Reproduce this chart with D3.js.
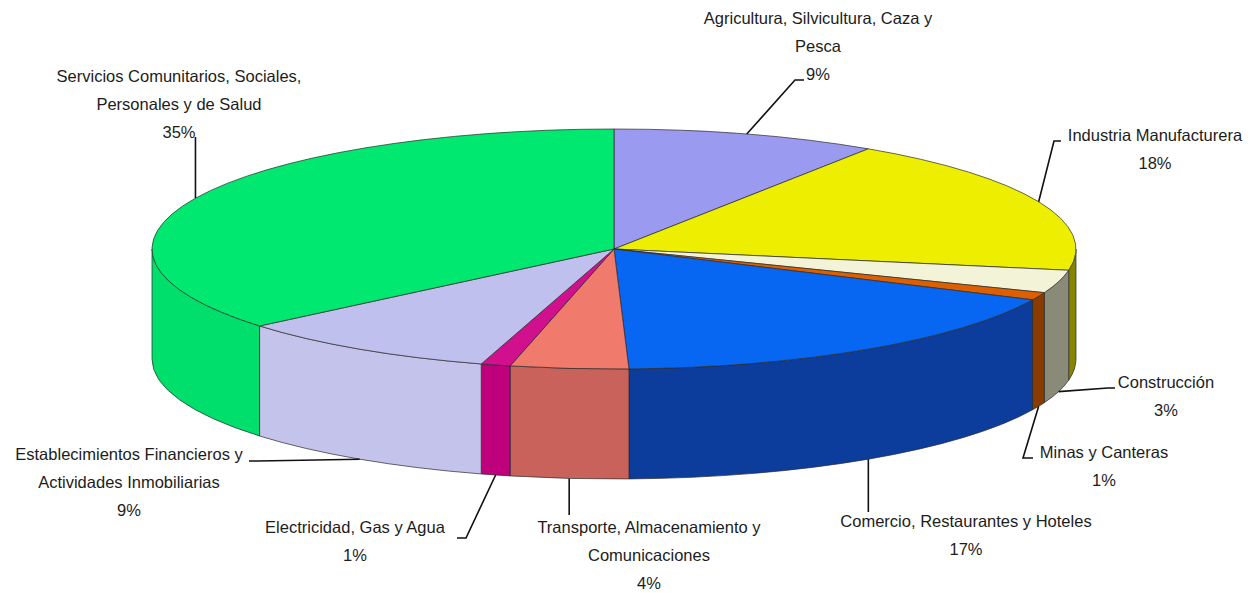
<!DOCTYPE html>
<html><head><meta charset="utf-8">
<script src="https://cdn.jsdelivr.net/npm/d3@7"></script>
<style>html,body{margin:0;padding:0;background:#fff;overflow:hidden}</style>
</head><body>
<svg id="chart" width="1259" height="593"></svg>
<script>
// ---- data ----
const categories = [
  "Agricultura, Silvicultura, Caza y|Pesca",
  "Industria Manufacturera",
  "Construcción",
  "Minas y Canteras",
  "Comercio, Restaurantes y Hoteles",
  "Transporte, Almacenamiento y|Comunicaciones",
  "Electricidad, Gas y Agua",
  "Establecimientos Financieros y|Actividades Inmobiliarias",
  "Servicios Comunitarios, Sociales,|Personales y de Salud"
];
const values = [9, 18, 3, 1, 17, 4, 1, 9, 35];
const percentLabels = ["9%", "18%", "3%", "1%", "17%", "4%", "1%", "9%", "35%"];

// ---- styles / layout ----
const topColors  = ["#9a9af0", "#eeee00", "#f3f3d8", "#dd5f00", "#0766f2", "#f07a6c", "#d0108c", "#bfc0ee", "#00e870"];
const sideColors = ["#7474c0", "#858500", "#8a8a78", "#8a3c00", "#0c3d9c", "#c8625a", "#bf007c", "#c3c3ec", "#00de6c"];
const labelPos = [[818,24],[1155,141],[1166,388],[1104,458],[966,527],[649,533],[355,533],[129,460],[179,82]];
const leaderPts = [
  [[795,80],[804,80]],
  [[1054,141],[1061,141]],
  [[1108,388],[1115,388]],
  [[1023,458],[1033,458]],
  [[null,512]],
  [[null,515]],
  [[466,538],[457,538]],
  [[258,461],[249,461]],
  [[null,137]]
];
const cx = 614, cy = 249, rx = 462, ry = 120, depth = 110;
const fontSize = 16.5, lineH = 27.8;

const svg = d3.select("#chart");
const color = d3.scaleOrdinal().domain(d3.range(values.length)).range(topColors);
const sideColor = d3.scaleOrdinal().domain(d3.range(values.length)).range(sideColors);

const arcs = d3.pie().sort(null).value(d => d).startAngle(0).endAngle(2*Math.PI)(values);

const pt = (a, dy = 0) => [cx + rx*Math.sin(a), cy - ry*Math.cos(a) + dy];

function topPath(a0, a1){
  const p0 = pt(a0), p1 = pt(a1);
  const large = (a1 - a0) > Math.PI ? 1 : 0;
  return `M${cx},${cy}L${p0}A${rx},${ry} 0 ${large} 1 ${p1}Z`;
}
function wallPath(a0, a1){
  const s0 = Math.max(a0, Math.PI/2), s1 = Math.min(a1, 3*Math.PI/2);
  if (s1 <= s0) return null;
  const t0 = pt(s0), t1 = pt(s1), b1 = pt(s1, depth), b0 = pt(s0, depth);
  const large = (s1 - s0) > Math.PI ? 1 : 0;
  return `M${t0}A${rx},${ry} 0 ${large} 1 ${t1}L${b1}A${rx},${ry} 0 ${large} 0 ${b0}Z`;
}

const g = svg.append("g");
// walls
g.selectAll("path.wall").data(arcs.filter(d => wallPath(d.startAngle, d.endAngle)))
  .join("path").attr("class","wall")
  .attr("d", d => wallPath(d.startAngle, d.endAngle))
  .attr("fill", d => sideColor(d.index))
  .attr("stroke", "#2a2a2a").attr("stroke-width", 0.7).attr("stroke-linejoin","round");
// tops
g.selectAll("path.top").data(arcs).join("path").attr("class","top")
  .attr("d", d => topPath(d.startAngle, d.endAngle))
  .attr("fill", d => color(d.index))
  .attr("stroke", "#2a2a2a").attr("stroke-width", 0.7).attr("stroke-linejoin","round");

// leaders
const lab = svg.append("g");
arcs.forEach(d => {
  const mid = (d.startAngle + d.endAngle)/2;
  const front = mid > Math.PI/2 && mid < 3*Math.PI/2;
  const anchor = pt(mid, front ? depth : 0);
  const pts = [anchor].concat(leaderPts[d.index].map(p => [p[0] == null ? anchor[0] : p[0], p[1]]));
  lab.append("path").attr("d", d3.line()(pts))
    .attr("fill","none").attr("stroke","#111").attr("stroke-width",1.6);
});

// labels
arcs.forEach(d => {
  const lines = categories[d.index].split("|").concat([percentLabels[d.index]]);
  const [x, y] = labelPos[d.index];
  const t = lab.append("text").attr("text-anchor","middle")
    .attr("font-family","'Liberation Sans', Arial, sans-serif")
    .attr("font-size", fontSize).attr("fill","#1c1c1c");
  lines.forEach((s, i) => t.append("tspan").attr("x", x).attr("y", y + i*lineH).text(s));
});
</script>
</body></html>
